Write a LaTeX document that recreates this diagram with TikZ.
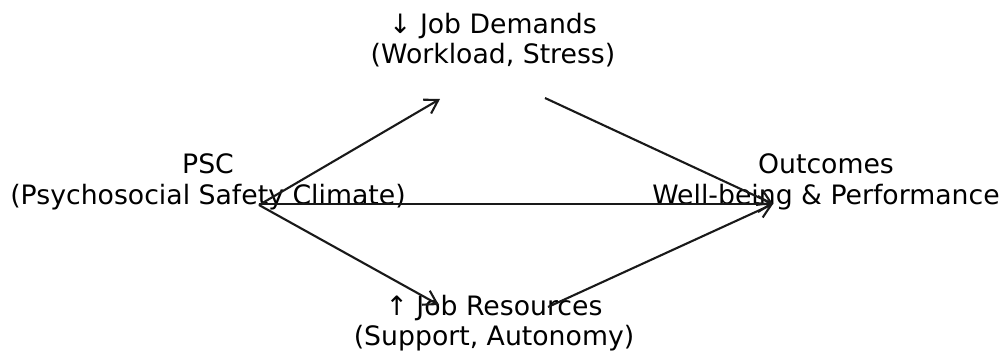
\documentclass[tikz,border=0pt]{standalone}
\usepackage{fontspec}
\setmainfont{DejaVu Sans}
\usetikzlibrary{arrows.meta}
\begin{document}
\begin{tikzpicture}[x=1pt,y=-1pt,
  label/.style={align=center,inner sep=0pt,text=black,
    font=\fontsize{26.7}{30.5}\selectfont},
  link/.style={draw=black!90,line width=2.1pt,
    -{Straight Barb[length=13pt,width=16pt,line width=2.1pt]}}]
\useasboundingbox (0,0) rectangle (1003,354);
\fill[white] (0,0) rectangle (1003,354);

% factor labels
\node[label] (psc) at (208,182) {PSC\\(Psychosocial Safety Climate)};
\node[label] (jd)  at (493,40)  {↓ Job Demands\\(Workload, Stress)};
\node[label] (jr)  at (494,323) {↑ Job Resources\\(Support, Autonomy)};
\node[label] (out) at (826,182) {Outcomes\\Well-being \& Performance};

% arrow anchor points
\coordinate (pscA) at (259,205);
\coordinate (pscB) at (259,204);
\coordinate (jdIn)  at (440,99);
\coordinate (jdOut) at (545,98);
\coordinate (jrIn)  at (439,305);
\coordinate (jrOut) at (548,307);
\coordinate (outIn) at (773,204);

% paths
\draw[link] (pscA) -- (jdIn);
\draw[link] (pscA) -- (jrIn);
\draw[link] (pscB) -- (outIn);
\draw[link] (jdOut) -- (outIn);
\draw[link] (jrOut) -- (outIn);
\end{tikzpicture}
\end{document}
